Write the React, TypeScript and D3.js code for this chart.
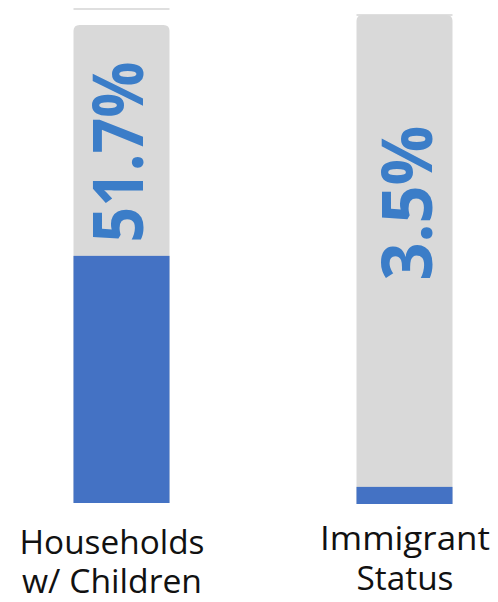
import React from "react";
import * as d3 from "d3";

const categories = ["Households w/ Children", "Immigrant Status"];
const values = [51.7, 3.5];
const labelLines = [
  ["Households", "w/ Children"],
  ["Immigrant", "Status"],
];

// layout per bar (pixels)
const layout = [
  { trackTop: 25, bottom: 503, capLine: 9, textX: 143, textY: 152, textLen: 181, labelX: 112, labelY: [554, 593], labelLen: [185, 180] },
  { trackTop: 15, bottom: 504, capLine: 15, textX: 432, textY: 203, textLen: 155, labelX: 405, labelY: [550, 590], labelLen: [170, 97] },
];

const W = 498;
const H = 602;
const barW = 96;

export default function App() {
  const x = d3.scalePoint<string>().domain(categories).range([121.5, 404.5]);

  return (
    <svg
      width={W}
      height={H}
      style={{ position: "absolute", left: 0, top: 0, background: "#fff" }}
    >
      {categories.map((c, i) => {
        const l = layout[i];
        const y = d3.scaleLinear().domain([0, 100]).range([l.bottom, l.trackTop]);
        const cx = x(c)!;
        const x0 = cx - barW / 2;
        const r = 6;
        const top = y(100);
        const track = `M${x0},${l.bottom} V${top + r} Q${x0},${top} ${x0 + r},${top} H${x0 + barW - r} Q${x0 + barW},${top} ${x0 + barW},${top + r} V${l.bottom} Z`;
        return (
          <g key={c}>
            <line x1={x0} x2={x0 + barW} y1={l.capLine} y2={l.capLine} stroke="#bfbfbf" strokeWidth={1} />
            <path d={track} fill="#d9d9d9" />
            <rect x={x0} width={barW} y={y(values[i])} height={l.bottom - y(values[i])} fill="#4472c4" />
            <text
              transform={`translate(${l.textX},${l.textY}) rotate(-90)`}
              textAnchor="middle"
              fontFamily="'Open Sans', sans-serif"
              fontWeight={700}
              fontSize={70}
              fill="#3b7dc8"
              textLength={l.textLen}
              lengthAdjust="spacingAndGlyphs"
            >
              {d3.format(".1f")(values[i])}%
            </text>
            {labelLines[i].map((t, j) => (
              <text
                key={t}
                x={l.labelX}
                y={l.labelY[j]}
                textAnchor="middle"
                fontFamily="'Open Sans', sans-serif"
                fontWeight={400}
                fontSize={32}
                fill="#111"
                textLength={l.labelLen[j]}
                lengthAdjust="spacingAndGlyphs"
              >
                {t}
              </text>
            ))}
          </g>
        );
      })}
    </svg>
  );
}
